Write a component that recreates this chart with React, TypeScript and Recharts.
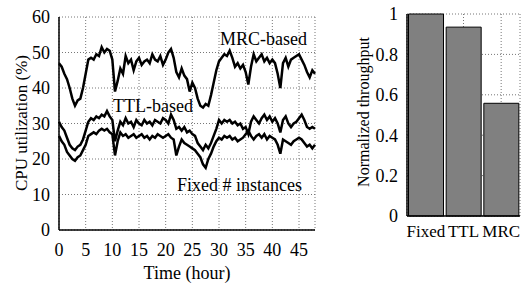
import {
  Bar,
  BarChart,
  CartesianGrid,
  Line,
  LineChart,
  XAxis,
  YAxis,
} from "recharts";

// sampled every half hour, 0..48
const mrcBased = [
  47, 46, 44, 42.5, 40, 37, 35, 36.5, 37, 40, 44, 48, 48.5, 48, 49.5, 49, 51.5, 50, 51, 50.5,
  48, 39, 42, 45.5, 44, 49, 47, 48, 45, 47.5, 48.5, 46.5, 47.5, 48, 47, 49.5, 48, 47.5, 49, 46.5,
  48, 50, 51, 48.5, 44.5, 43, 45.5, 43.5, 42.5, 39, 41.5, 40, 37, 35, 34.5, 35.5, 35, 38, 41.5, 45,
  47.5, 48.5, 49.5, 49, 50.5, 48.5, 46, 47, 45.5, 46.5, 44.5, 41, 46, 49.5, 47.5, 48.5, 49.5, 47.5, 48.5, 47,
  48, 47, 44, 40, 47, 48.5, 46, 48, 48.5, 49, 49.5, 48, 46.5, 44.5, 43, 45, 44,
];
const ttlBased = [
  30.5, 29, 28, 26, 24, 23, 22.5, 23.5, 24, 25.5, 28, 30.5, 31.5, 31, 32, 31.5, 32.5, 32, 33.5, 32,
  31, 25, 28, 30.5, 29.5, 31.5, 30, 30.5, 29, 31, 30, 29.5, 31, 30, 30.5, 29.5, 31, 30.5, 30, 31.5,
  31, 30, 32.5, 31, 28.5, 29, 28, 29, 27.5, 28, 27, 26.5, 24.5, 23.5, 22.5, 24, 23, 24.5, 26.5, 28.5,
  31, 30, 31, 30.5, 31, 30, 30.5, 29.5, 30, 28.5, 29, 27, 30.5, 32, 31, 30, 31.5, 32.5, 31, 32,
  30.5, 31.5, 30, 27.5, 31, 32, 30, 29, 30, 30.5, 31.5, 32.5, 31, 29, 28.5, 29, 28.5,
];
const fixedInstances = [
  26.5, 25, 24, 22, 21, 20, 19.5, 20.5, 21, 22.5, 24, 26.5, 27, 27.5, 27, 28, 28.5, 28, 28.5, 27.5,
  27, 21, 25, 27.5, 26.5, 27, 26, 26.5, 27, 26, 26.5, 27, 26, 26.5, 25.5, 26.5, 26, 27, 26.5, 26,
  26.5, 27, 26, 25.5, 21, 23.5, 25.5, 24.5, 24, 23.5, 23, 22.5, 21.5, 20.5, 18.5, 17.5, 20, 21.5, 23.5, 25,
  26, 25.5, 26.5, 26, 26.5, 25.5, 26, 25, 25.5, 26, 27, 28, 26.5, 25.5, 26.5, 27, 26, 27, 25.5, 26.5,
  26, 25.5, 24, 21.5, 25.5, 25, 24.5, 24, 25, 25.5, 26, 25.5, 24.5, 23.5, 24, 23, 24,
];
const hourTicks = [0, 5, 10, 15, 20, 25, 30, 35, 40, 45];
const cpuTicks = [0, 10, 20, 30, 40, 50, 60];

const schemes = ["Fixed", "TTL", "MRC"];
const throughput = [1, 0.935, 0.558];
const throughputTicks = [0, 0.2, 0.4, 0.6, 0.8, 1];

const font = "Liberation Serif, Times New Roman, serif";
const tickStyle = { fontSize: 18, fill: "#000", fontFamily: font };
const frame = { stroke: "#000", strokeWidth: 1.5 };

const lineData = mrcBased.map((v, i) => ({
  h: i * 0.5,
  mrc: v,
  ttl: ttlBased[i],
  fixed: fixedInstances[i],
}));
const barData = schemes.map((s, i) => ({ name: s, value: throughput[i] }));

export default function App() {
  return (
    <div style={{ position: "absolute", left: 0, top: 0, width: 523, height: 285, background: "#fff", overflow: "hidden" }}>
      <div style={{ position: "absolute", left: 0, top: 0 }}>
        <LineChart width={330} height={285} data={lineData} margin={{ top: 17, right: 15, left: 0, bottom: 25 }}>
          <CartesianGrid stroke="#777" strokeDasharray="1 2" />
          <XAxis
            type="number"
            dataKey="h"
            domain={[0, 48]}
            ticks={hourTicks}
            tick={tickStyle}
            tickSize={0}
            tickMargin={13}
            height={30}
            axisLine={frame}
          />
          <XAxis xAxisId="top" orientation="top" type="number" dataKey="h" domain={[0, 48]} tick={false} height={0} axisLine={frame} />
          <YAxis
            domain={[0, 60]}
            ticks={cpuTicks}
            tick={tickStyle}
            tickSize={0}
            tickMargin={9}
            width={59}
            axisLine={frame}
          />
          <YAxis yAxisId="right" orientation="right" domain={[0, 60]} tick={false} width={0} axisLine={frame} />
          <Line dataKey="mrc" stroke="#000" strokeWidth={2.5} dot={false} isAnimationActive={false} />
          <Line dataKey="ttl" stroke="#000" strokeWidth={2.5} dot={false} isAnimationActive={false} />
          <Line dataKey="fixed" stroke="#000" strokeWidth={2.5} dot={false} isAnimationActive={false} />
        </LineChart>
      </div>
      <div style={{ position: "absolute", left: 340, top: 0 }}>
        <BarChart width={183} height={285} data={barData} margin={{ top: 14, right: 3, left: 0, bottom: 44 }} barCategoryGap={1.5}>
          <CartesianGrid stroke="#777" strokeDasharray="1 2" />
          <XAxis dataKey="name" interval={0} tick={{ ...tickStyle, fontSize: 17 }} tickSize={0} tickMargin={9} height={25} axisLine={frame} />
          <XAxis xAxisId="top" orientation="top" dataKey="name" tick={false} height={0} axisLine={frame} />
          <YAxis
            domain={[0, 1]}
            ticks={throughputTicks}
            tick={tickStyle}
            tickSize={0}
            tickMargin={9}
            width={67}
            axisLine={frame}
          />
          <YAxis yAxisId="right" orientation="right" domain={[0, 1]} tick={false} width={0} axisLine={frame} />
          <Bar dataKey="value" fill="#808080" stroke="#000" strokeWidth={1} isAnimationActive={false} />
        </BarChart>
      </div>
      <svg width={523} height={285} style={{ position: "absolute", left: 0, top: 0, pointerEvents: "none" }} fontFamily={font} fontSize={18} fill="#000">
        <text x={307} y={45} textAnchor="end">MRC-based</text>
        <text x={113} y={112}>TTL-based</text>
        <text x={177} y={191}>Fixed # instances</text>
        <text x={187} y={279} textAnchor="middle">Time (hour)</text>
        <text transform="translate(27,123) rotate(-90)" textAnchor="middle" fontSize={17}>CPU utilization (%)</text>
        <text transform="translate(369,112) rotate(-90)" textAnchor="middle" fontSize={16}>Normalized throughput</text>
      </svg>
    </div>
  );
}
